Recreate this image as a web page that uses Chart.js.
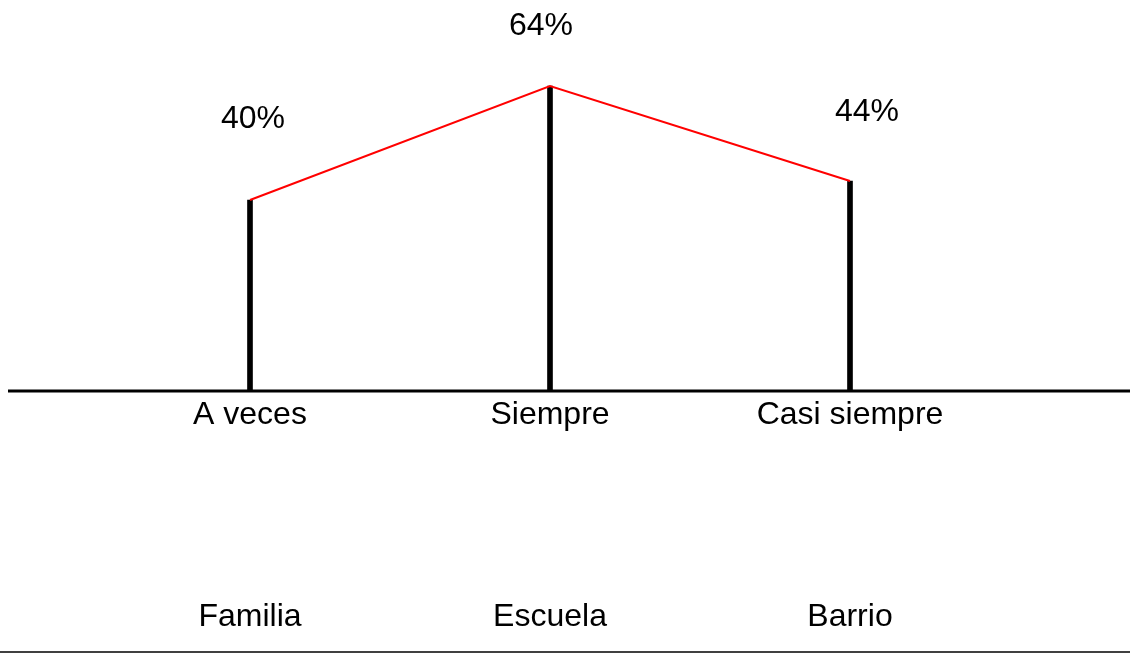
<!DOCTYPE html>
<html>
<head>
<meta charset="utf-8">
<script src="https://cdn.jsdelivr.net/npm/chart.js@4/dist/chart.umd.min.js"></script>
<style>
  body { margin: 0; background: #fff; }
  canvas { display: block; }
</style>
</head>
<body>
<canvas id="chart" width="1130" height="653"></canvas>
<script>
// data
var answers = ['A veces', 'Siempre', 'Casi siempre'];
var places = ['Familia', 'Escuela', 'Barrio'];
var percents = [40, 64, 44];

var family = '"Liberation Sans", Arial, sans-serif';

// two rows of category text under each stem: answer on top, place far below
var tickLabels = answers.map(function(a, i) {
  return [a, '', '', '', '', places[i]];
});

// where each % label sits relative to the top of its stem (style only)
var labelNudge = [[3, -81], [-9, -60], [17, -69]];

var extras = {
  id: 'extras',
  afterDatasetsDraw: function(chart) {
    var ctx = chart.ctx;
    var y0 = chart.scales.y.getPixelForValue(0);
    ctx.save();
    // long baseline
    ctx.strokeStyle = '#000';
    ctx.lineWidth = 3;
    ctx.beginPath();
    ctx.moveTo(8, y0 + 1);
    ctx.lineTo(chart.width, y0 + 1);
    ctx.stroke();
    // bottom rule
    ctx.lineWidth = 1.5;
    ctx.beginPath();
    ctx.moveTo(0, chart.height - 1);
    ctx.lineTo(chart.width, chart.height - 1);
    ctx.stroke();
    // % labels
    ctx.fillStyle = '#000';
    ctx.font = '32px ' + family;
    ctx.textAlign = 'center';
    ctx.textBaseline = 'middle';
    var meta = chart.getDatasetMeta(0);
    meta.data.forEach(function(bar, i) {
      ctx.fillText(percents[i] + '%', bar.x + labelNudge[i][0], bar.y + labelNudge[i][1]);
    });
    ctx.restore();
  }
};

new Chart(document.getElementById('chart'), {
  type: 'bar',
  data: {
    labels: tickLabels,
    datasets: [
      {
        type: 'bar',
        data: percents,
        backgroundColor: '#000',
        barThickness: 5,
        order: 2
      },
      {
        type: 'line',
        data: percents,
        borderColor: '#ff0000',
        borderWidth: 2,
        pointRadius: 0,
        tension: 0,
        fill: false,
        order: 1
      }
    ]
  },
  options: {
    responsive: false,
    animation: false,
    devicePixelRatio: 1,
    layout: { padding: { top: 10, left: 100, right: 130, bottom: 10.6 } },
    plugins: { legend: { display: false }, tooltip: { enabled: false } },
    scales: {
      x: {
        offset: true,
        grid: { display: false, drawTicks: false },
        border: { display: false },
        ticks: {
          color: '#000',
          font: { family: family, size: 32, lineHeight: 1.2625 },
          padding: 5,
          maxRotation: 0,
          autoSkip: false
        }
      },
      y: { display: false, min: 0, max: 80 }
    }
  },
  plugins: [extras]
});
</script>
</body>
</html>
